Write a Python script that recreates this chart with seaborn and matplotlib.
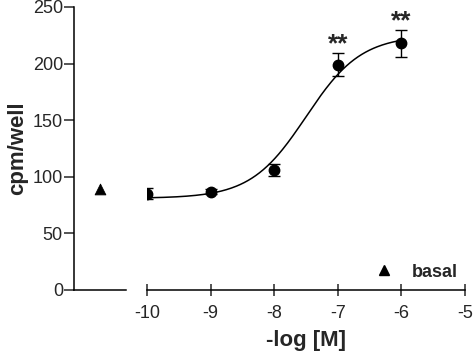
"""
Concentration-response plot: cpm/well vs -log [M] with basal reference.
"""

import matplotlib
matplotlib.use("Agg")
import matplotlib.pyplot as plt
import numpy as np
import pandas as pd
import seaborn as sns
from matplotlib.lines import Line2D

# measured points
log_conc = [-10, -9, -8, -7, -6]
cpm_mean = [85, 87, 106, 199, 218]
cpm_sem = [5, 2, 5, 10, 12]
stars = ["", "", "", "**", "**"]

# basal (no agonist)
basal_label = "basal"
basal_value = 89

# fitted 4-parameter logistic
fit_bottom = 81
fit_top = 225
fit_log_ec50 = -7.5
fit_hill = 1.0

x_ticks = [-10, -9, -8, -7, -6, -5]
y_ticks = [0, 50, 100, 150, 200, 250]

sns.set_style("white")
plt.rcParams["font.family"] = ["Liberation Sans", "DejaVu Sans"]

fig = plt.figure(figsize=(4.74, 3.51), dpi=100)
ax_b = fig.add_axes([0.1561, 0.1738, 0.1097, 0.8063])
ax = fig.add_axes([0.3101, 0.1738, 0.6709, 0.8063])

# basal panel
basal_df = pd.DataFrame({"x": [1.0], "y": [basal_value]})
sns.scatterplot(data=basal_df, x="x", y="y", marker="^", s=60, color="black",
                edgecolor="black", ax=ax_b, legend=False)
ax_b.set_xlim(0, 2)
ax_b.set_ylim(0, 250)
ax_b.set_yticks(y_ticks)
ax_b.set_xticks([2])
ax_b.set_xticklabels([""])
ax_b.tick_params(axis="x", direction="inout", length=9, width=1.1)
ax_b.tick_params(axis="y", direction="out", length=7, width=1.1,
                 labelsize=13, pad=1, left=True)
for side in ["top", "right"]:
    ax_b.spines[side].set_visible(False)
for side in ["left", "bottom"]:
    ax_b.spines[side].set_linewidth(1.1)
    ax_b.spines[side].set_color("black")
ax_b.set_xlabel("")
ax_b.set_ylabel("cpm/well", fontsize=16, fontweight="bold", labelpad=3)

# fitted curve
xs = np.linspace(-10, -6, 200)
curve = fit_bottom + (fit_top - fit_bottom) / (1 + 10 ** ((fit_log_ec50 - xs) * fit_hill))
sns.lineplot(x=xs, y=curve, color="black", linewidth=1.1, ax=ax)

# points with error bars
ax.errorbar(log_conc, cpm_mean, yerr=cpm_sem, fmt="o", color="black",
            markersize=7.5, capsize=4.5, elinewidth=1.0, capthick=1.0)
for xv, yv, ev, s in zip(log_conc, cpm_mean, cpm_sem, stars):
    if s:
        ax.text(xv, yv + ev - 3, s, ha="center", va="bottom",
                fontsize=19, fontweight="bold")

ax.set_xlim(-10, -5)
ax.set_ylim(0, 250)
ax.set_xticks(x_ticks)
ax.set_xticklabels([str(t) for t in x_ticks])
ax.set_yticks([])
ax.tick_params(axis="x", direction="inout", length=9, width=1.1,
               labelsize=13, pad=6, bottom=True)
for side in ["top", "right", "left"]:
    ax.spines[side].set_visible(False)
ax.spines["bottom"].set_linewidth(1.1)
ax.spines["bottom"].set_color("black")
ax.set_xlabel("-log [M]", fontsize=16, fontweight="bold", labelpad=6)
ax.set_ylabel("")

handle = Line2D([], [], marker="^", color="black", linestyle="none", markersize=7)
ax.legend([handle], [basal_label], loc="lower right", frameon=False,
          prop={"weight": "bold", "size": 13}, handletextpad=0.5,
          bbox_to_anchor=(1.01, -0.005), borderaxespad=0.2)

fig.savefig("out.png", dpi=100)
